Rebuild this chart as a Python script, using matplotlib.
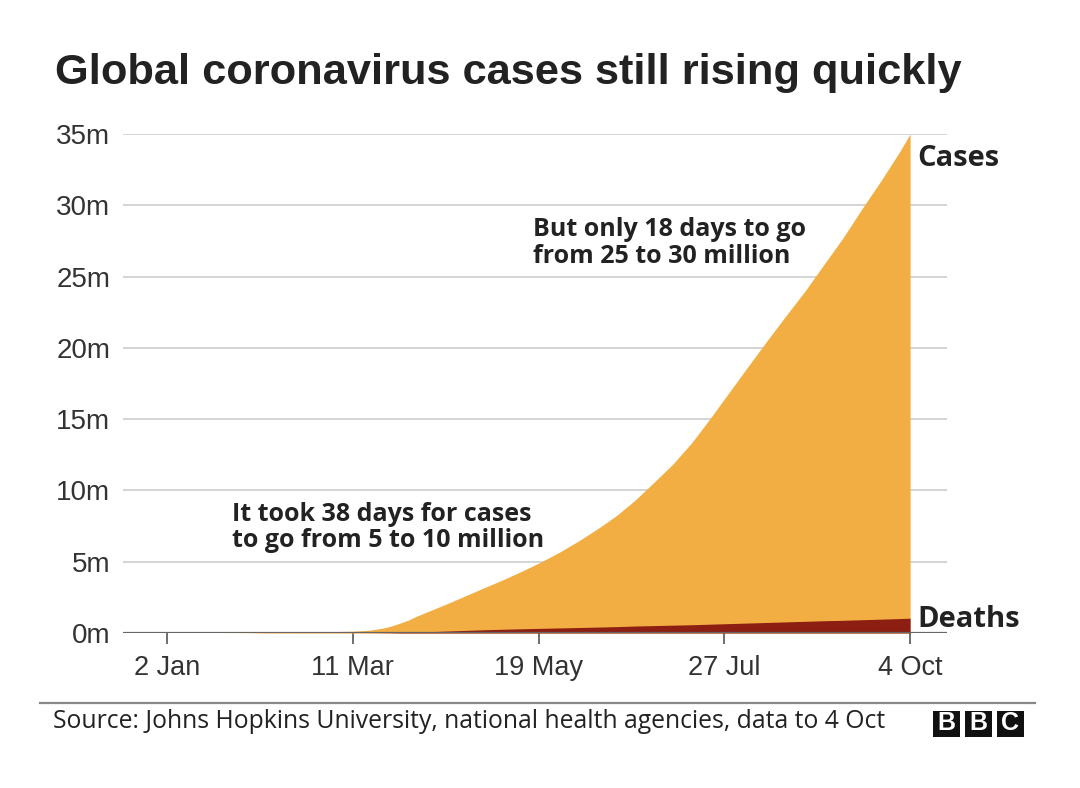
import matplotlib
matplotlib.use("Agg")
import matplotlib.pyplot as plt
from matplotlib.patches import Rectangle
from matplotlib.lines import Line2D
import pandas as pd

dates = ["2020-01-02", "2020-01-22", "2020-02-01", "2020-02-15", "2020-03-01",
         "2020-03-11", "2020-03-15", "2020-03-18", "2020-03-22", "2020-03-25",
         "2020-03-29", "2020-04-01", "2020-04-04", "2020-04-08",
         "2020-04-15", "2020-04-22", "2020-04-29", "2020-05-06", "2020-05-13",
         "2020-05-20", "2020-05-27", "2020-06-03", "2020-06-10", "2020-06-17",
         "2020-06-24", "2020-07-01", "2020-07-08", "2020-07-15", "2020-07-22",
         "2020-07-29", "2020-08-05", "2020-08-12", "2020-08-19", "2020-08-26",
         "2020-09-02", "2020-09-09", "2020-09-16", "2020-09-23", "2020-09-30",
         "2020-10-04"]
cases = [0.0, 0.0006, 0.012, 0.069, 0.088,
         0.126, 0.167, 0.214, 0.337, 0.467,
         0.72, 0.93, 1.2, 1.51,
         2.05, 2.62, 3.19, 3.75, 4.35,
         4.99, 5.69, 6.47, 7.32, 8.24,
         9.34, 10.59, 11.87, 13.37, 15.11,
         16.93, 18.74, 20.53, 22.28, 23.99,
         25.85, 27.69, 29.72, 31.67, 33.72,
         35.0]
deaths = [0.0, 0.00002, 0.0003, 0.0017, 0.003,
          0.0046, 0.0065, 0.009, 0.015, 0.022,
          0.034, 0.047, 0.064, 0.088,
          0.137, 0.183, 0.228, 0.264, 0.297,
          0.327, 0.356, 0.385, 0.415, 0.446,
          0.49, 0.52, 0.55, 0.58, 0.62,
          0.66, 0.70, 0.74, 0.78, 0.82,
          0.86, 0.89, 0.93, 0.97, 1.01,
          1.04]

tick_dates = ["2020-01-02", "2020-03-11", "2020-05-19", "2020-07-27", "2020-10-04"]
tick_labels = ["2 Jan", "11 Mar", "19 May", "27 Jul", "4 Oct"]
y_ticks = [0, 5, 10, 15, 20, 25, 30, 35]

CASES_COL = "#F2AD43"
DEATHS_COL = "#8C1F11"
TXT = "#222222"
ANNO_FONT = "Open Sans"

x = pd.to_datetime(dates)

fig = plt.figure(figsize=(10.8, 7.88), dpi=100)
ax = fig.add_axes([123/1080, 1 - 633/788, 824/1080, 499/788])

ax.fill_between(x, 0, cases, color=CASES_COL, lw=0, zorder=2)
ax.fill_between(x, 0, deaths, color=DEATHS_COL, lw=0, zorder=3)

start = pd.Timestamp("2020-01-02")
ax.set_xlim(start - pd.Timedelta(days=16.3), start + pd.Timedelta(days=289.7))
ax.set_ylim(0, 35)

for s in ax.spines.values():
    s.set_visible(False)
ax.axhline(0, color="#666666", lw=1.6, zorder=4)

ax.set_yticks(y_ticks)
ax.set_yticklabels([f"{v}m" for v in y_ticks])
ax.yaxis.grid(True, color="#d4d4d4", lw=1.4, zorder=0)
ax.tick_params(axis="y", length=0, pad=9, labelsize=20, labelcolor="#333333")
for lab in ax.get_yticklabels():
    lab.set_fontfamily("Liberation Sans")

ax.set_xticks(pd.to_datetime(tick_dates))
ax.set_xticklabels(tick_labels)
ax.tick_params(axis="x", length=8, width=1.2, color="#555555", pad=8,
               labelsize=19.5, labelcolor="#333333")
for lab in ax.get_xticklabels():
    lab.set_fontfamily("Liberation Sans")
ax.set_axisbelow(True)

# labels at end of series
end = pd.Timestamp("2020-10-04")
ax.text(end + pd.Timedelta(days=2.7), 33.3, "Cases", fontsize=21, fontweight="bold",
        family=ANNO_FONT, color=TXT, va="center", ha="left")
ax.text(end + pd.Timedelta(days=2.7), 0.95, "Deaths", fontsize=21, fontweight="bold",
        family=ANNO_FONT, color=TXT, va="center", ha="left")

ax.text(pd.Timestamp("2020-05-17"), 27.35, "But only 18 days to go\nfrom 25 to 30 million",
        fontsize=18, fontweight="bold", family=ANNO_FONT, color=TXT,
        va="center", ha="left", linespacing=1.1)
ax.text(pd.Timestamp("2020-01-26"), 7.4, "It took 38 days for cases\nto go from 5 to 10 million",
        fontsize=18, fontweight="bold", family=ANNO_FONT, color=TXT,
        va="center", ha="left", linespacing=1.1)

fig.text(55/1080, 1 - 73/788, "Global coronavirus cases still rising quickly",
         fontsize=31.2, fontweight="bold", family="Liberation Sans", color=TXT,
         va="center", ha="left")

fig.add_artist(Line2D([40/1080, 1035/1080], [1 - 703/788] * 2, color="#888888", lw=1.6))
fig.text(53/1080, 1 - 722/788,
         "Source: Johns Hopkins University, national health agencies, data to 4 Oct",
         fontsize=17.8, family=ANNO_FONT, color=TXT, va="center", ha="left")

for i, letter in enumerate("BBC"):
    x0 = 933 + i * 32
    fig.add_artist(Rectangle((x0/1080, 1 - 737/788), 27/1080, 26/788,
                             facecolor="#111111", edgecolor="none"))
    fig.text((x0 + 13.5)/1080, 1 - 723.5/788, letter, fontsize=18, fontweight="bold",
             family="Liberation Sans", color="white", ha="center", va="center")

fig.savefig("out.png", dpi=100)
